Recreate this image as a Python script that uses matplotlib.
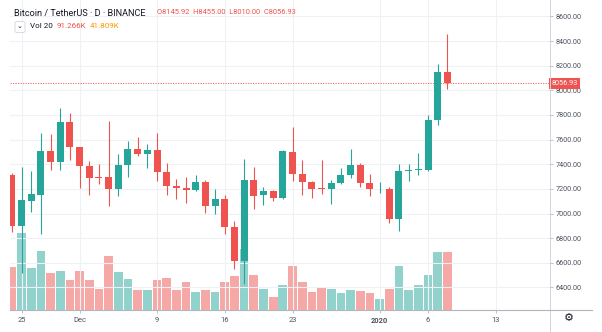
import matplotlib.pyplot as plt
import matplotlib.dates as mdates
from matplotlib.lines import Line2D
import numpy as np
import pandas as pd

plt.rcParams['font.family'] = ['Roboto', 'DejaVu Sans']

# BTC/USDT daily candles, 24 Nov 2019 - 8 Jan 2020
dates = pd.date_range('2019-11-24', '2020-01-08', freq='D')
opens = [7313, 6900, 7105, 7150, 7507, 7416, 7743, 7537, 7389, 7294,
         7294, 7197, 7391, 7526, 7483, 7516, 7337, 7221, 7208, 7194,
         7258, 7059, 7118, 6891, 6617, 7275, 7148, 7183, 7129, 7502,
         7318, 7256, 7207, 7197, 7250, 7313, 7391, 7245, 7195, 7199,
         6956, 7345, 7353, 7353, 7759, 8145.92]
highs = [7331, 7378, 7345, 7656, 7645, 7856, 7813, 7540, 7426, 7402,
         7751, 7483, 7589, 7624, 7564, 7654, 7413, 7278, 7294, 7313,
         7272, 7199, 7148, 6940, 7443, 7375, 7218, 7191, 7516, 7700,
         7434, 7264, 7434, 7272, 7367, 7526, 7413, 7318, 7256, 7218,
         7402, 7402, 7494, 7797, 8213, 8455.00]
lows = [6853, 6515, 7013, 6834, 7353, 7353, 7434, 7205, 7150, 7240,
        7064, 7142, 7299, 7469, 7372, 7267, 7150, 7120, 7083, 7183,
        7007, 7000, 6832, 6553, 6428, 7037, 7072, 7102, 7118, 7267,
        7153, 7129, 7156, 7075, 7237, 7291, 7218, 7142, 7164, 6921,
        6861, 7267, 7315, 7345, 7721, 8010.00]
closes = [6899, 7110, 7159, 7507, 7416, 7743, 7537, 7386, 7291, 7290,
          7197, 7391, 7526, 7483, 7516, 7335, 7221, 7207, 7194, 7257,
          7059, 7118, 6888, 6617, 7275, 7145, 7183, 7129, 7505, 7318,
          7256, 7202, 7196, 7250, 7313, 7391, 7245, 7197, 7200, 6956,
          7343, 7353, 7361, 7759, 8148, 8056.93]
volumes = [68, 120, 66, 93, 58, 61.5, 47.4, 61.5, 46.4, 33.3,
           84, 59.5, 48.5, 31.8, 30.7, 47.4, 50.6, 30.7, 43.2, 28.6,
           30.7, 27.6, 44.3, 53.7, 96, 55.3, 32.9, 19.7, 39.6, 68.3,
           43.8, 28.6, 36.5, 33.3, 27, 31.8, 30.2, 26.6, 17.2, 32.9,
           68.3, 30.7, 39.6, 55.3, 91.3, 91.266]

tick_dates = pd.to_datetime(['2019-11-25', '2019-12-01', '2019-12-09', '2019-12-16',
                             '2019-12-23', '2020-01-01', '2020-01-06', '2020-01-13'])
tick_labels = ['25', 'Dec', '9', '16', '23', '2020', '6', '13']
price_ticks = np.arange(6400, 8601, 200)

up_col = '#26a69a'
dn_col = '#ef5350'
txt_col = '#4c525e'

o = np.array(opens); h = np.array(highs); l = np.array(lows); c = np.array(closes)
up = c >= o
cols = np.where(up, up_col, dn_col)
x = mdates.date2num(dates)

fig = plt.figure(figsize=(6.02, 3.32), dpi=100)
rect = [10 / 602, 22 / 332, 539 / 602, 310 / 332]
ax = fig.add_axes(rect)
axv = ax.twinx()
ax.set_zorder(axv.get_zorder() + 1)
ax.patch.set_visible(False)

# volume
axv.bar(x, volumes, width=0.9, color=cols, alpha=0.5, linewidth=0)
axv.set_ylim(0, 485)
axv.set_yticks([])
for s in axv.spines.values():
    s.set_visible(False)

# candles
body_lo = np.minimum(o, c)
body_h = np.maximum(np.abs(c - o), 6)
ax.vlines(x, l, h, colors=cols, linewidth=0.8, zorder=3)
ax.bar(x, body_h, bottom=body_lo, width=0.72, color=cols, linewidth=0, zorder=4)

last = closes[-1]
ax.axhline(last, color=dn_col, lw=0.6, ls=(0, (1.5, 1.5)), zorder=2)

x0 = mdates.date2num(dates[0])
ax.set_xlim(x0 - 0.19, x0 + 55.5)
ax.set_ylim(6217, 8733)

ax.set_xticks(mdates.date2num(tick_dates))
ax.set_xticklabels(tick_labels)
for lab in ax.get_xticklabels():
    if lab.get_text() == '2020':
        lab.set_fontweight('bold')
ax.set_yticks(price_ticks)
ax.set_yticklabels(['%.2f' % v for v in price_ticks])
ax.yaxis.tick_right()
ax.tick_params(axis='y', length=3, width=0.6, color='#b2b5be', labelsize=5.2,
               labelcolor=txt_col, pad=2)
ax.tick_params(axis='x', length=2, width=0.6, color='#b2b5be', labelsize=5.4,
               labelcolor=txt_col, pad=3)
ax.grid(True, color='#eef1f6', linewidth=0.8)
ax.set_axisbelow(True)
for s in ['top', 'left', 'right']:
    ax.spines[s].set_visible(False)
ax.spines['bottom'].set_color('#b2b5be')
ax.spines['bottom'].set_linewidth(0.8)

# price scale border lines
fig.add_artist(Line2D([549.5 / 602] * 2, [0, 1], color='#d1d4dc', lw=0.7))
fig.add_artist(Line2D([549 / 602, 592 / 602], [22 / 332] * 2, color='#b2b5be', lw=0.8))

# last price label
ax.text(1.004, last, '%.2f' % last, transform=ax.get_yaxis_transform(),
        ha='left', va='center', fontsize=5.2, color='white', zorder=10,
        bbox=dict(boxstyle='square,pad=0.3', fc=dn_col, ec='none'), clip_on=False)

# legend header
fig.text(14 / 602, 1 - 13 / 332, 'Bitcoin / TetherUS · D · BINANCE', fontsize=6.6,
         color='#131722', va='center')
fig.text(157 / 602, 1 - 13 / 332, 'O8145.92  H8455.00  L8010.00  C8056.93', fontsize=5.4,
         color=dn_col, va='center')
fig.text(20 / 602, 1 - 27 / 332, '⌄', fontsize=5, color='#131722', ha='center', va='center',
         bbox=dict(boxstyle='round,pad=0.3', fc='white', ec='#d1d4dc', lw=0.6))
fig.text(30 / 602, 1 - 26.5 / 332, 'Vol 20', fontsize=5.8, color='#131722', va='center')
fig.text(57 / 602, 1 - 26.5 / 332, '91.266K', fontsize=5.8, color=dn_col, va='center')
fig.text(90 / 602, 1 - 26.5 / 332, '41.809K', fontsize=5.8, color='#ff9800', va='center')

fig.text(569 / 602, 1 - 318 / 332, '⚙', fontsize=8, color='#131722', ha='center', va='center',
         family=['DejaVu Sans'])

fig.savefig('out.png', dpi=100)
